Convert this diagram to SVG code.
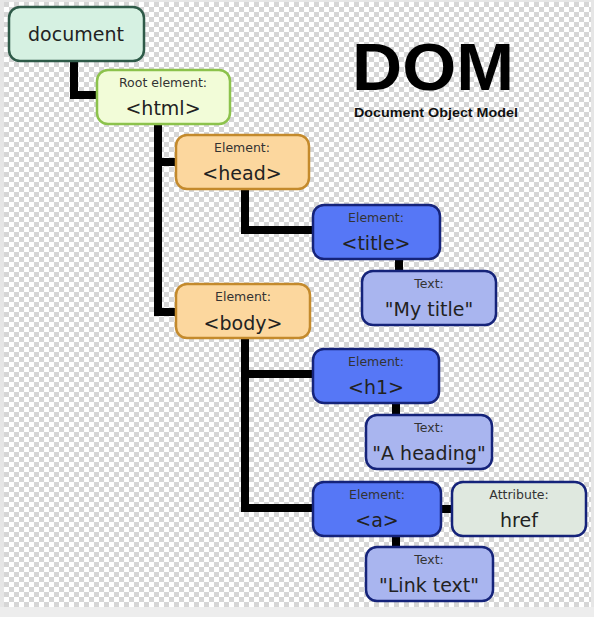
<svg xmlns="http://www.w3.org/2000/svg" width="594" height="617" viewBox="0 0 594 617">
<defs>
<pattern id="chk" x="4" y="2" width="10" height="10" patternUnits="userSpaceOnUse">
<rect width="10" height="10" fill="#ffffff"/>
<rect width="5" height="5" fill="#d6d6d6"/>
<rect x="5" y="5" width="5" height="5" fill="#d6d6d6"/>
</pattern>
<style>
.n{stroke-width:2.5}
.lbl{font-family:"DejaVu Sans",Verdana,sans-serif;font-size:12.5px;fill:#333;text-anchor:middle}
.main{font-family:"DejaVu Sans",Verdana,sans-serif;font-size:19px;fill:#222;text-anchor:middle}
.doc{fill:#d6f1e2;stroke:#2e5a48}
.root{fill:#f2fcd8;stroke:#8cc24c}
.org{fill:#fcd79e;stroke:#c48a2c}
.blue{fill:#5677f6;stroke:#15237a}
.txt{fill:#a9b5ef;stroke:#15237a}
.attr{fill:#dfe8df;stroke:#15237a}
.con{stroke:#000;stroke-width:8;fill:none;stroke-linecap:butt;stroke-linejoin:miter}
</style>
</defs>
<rect width="594" height="617" fill="#e6e6e6"/>
<rect x="4" y="2" width="587" height="605" fill="url(#chk)"/>
<rect x="0" y="607" width="594" height="10" fill="#ededed"/>

<g id="title-text">
<text x="433" y="90" font-family="'Liberation Sans',Arial,sans-serif" font-weight="bold" font-size="67" text-anchor="middle" fill="#000" textLength="162" lengthAdjust="spacingAndGlyphs">DOM</text>
<text x="436" y="117" font-family="'Liberation Sans',Arial,sans-serif" font-weight="bold" font-size="12.5" text-anchor="middle" fill="#111" textLength="164" lengthAdjust="spacingAndGlyphs">Document Object Model</text>
</g>

<g id="connectors">
<path class="con" d="M74 61 V95 H98"/>
<path class="con" d="M158 124 V312 H177"/>
<path class="con" d="M158 162 H177"/>
<path class="con" d="M245 189 V230 H314"/>
<path class="con" d="M399 259 V272"/>
<path class="con" d="M245 338 V508 H314"/>
<path class="con" d="M245 374 H314"/>
<path class="con" d="M396 403 V416"/>
<path class="con" d="M396 536 V548"/>
<path class="con" d="M440 509 H453"/>
</g>

<g id="document">
<rect class="n doc" x="9" y="7" width="135" height="54" rx="11"/>
<text class="main" x="76" y="41" font-size="20">document</text>
</g>
<g id="html">
<rect class="n root" x="97" y="70" width="133" height="54" rx="11"/>
<text class="lbl" x="163" y="87">Root element:</text>
<text class="main" x="163" y="115">&lt;html&gt;</text>
</g>
<g id="head">
<rect class="n org" x="176" y="135" width="133" height="54" rx="11"/>
<text class="lbl" x="242" y="152">Element:</text>
<text class="main" x="242" y="180">&lt;head&gt;</text>
</g>
<g id="title">
<rect class="n blue" x="313" y="205" width="127" height="54" rx="11"/>
<text class="lbl" x="376" y="222">Element:</text>
<text class="main" x="376" y="250">&lt;title&gt;</text>
</g>
<g id="mytitle">
<rect class="n txt" x="362" y="271" width="134" height="54" rx="11"/>
<text class="lbl" x="429" y="288">Text:</text>
<text class="main" x="429" y="316">"My title"</text>
</g>
<g id="body">
<rect class="n org" x="176" y="284" width="134" height="54" rx="11"/>
<text class="lbl" x="243" y="301">Element:</text>
<text class="main" x="243" y="330">&lt;body&gt;</text>
</g>
<g id="h1">
<rect class="n blue" x="313" y="349" width="126" height="54" rx="11"/>
<text class="lbl" x="376" y="366">Element:</text>
<text class="main" x="376" y="394">&lt;h1&gt;</text>
</g>
<g id="aheading">
<rect class="n txt" x="366" y="415" width="126" height="54" rx="11"/>
<text class="lbl" x="429" y="432">Text:</text>
<text class="main" x="429" y="460">"A heading"</text>
</g>
<g id="a">
<rect class="n blue" x="313" y="482" width="128" height="54" rx="11"/>
<text class="lbl" x="377" y="499">Element:</text>
<text class="main" x="377" y="527">&lt;a&gt;</text>
</g>
<g id="href">
<rect class="n attr" x="452" y="482" width="134" height="54" rx="11"/>
<text class="lbl" x="519" y="499">Attribute:</text>
<text class="main" x="519" y="527">href</text>
</g>
<g id="linktext">
<rect class="n txt" x="366" y="547" width="127" height="54" rx="11"/>
<text class="lbl" x="429" y="564">Text:</text>
<text class="main" x="429" y="592">"Link text"</text>
</g>
</svg>
